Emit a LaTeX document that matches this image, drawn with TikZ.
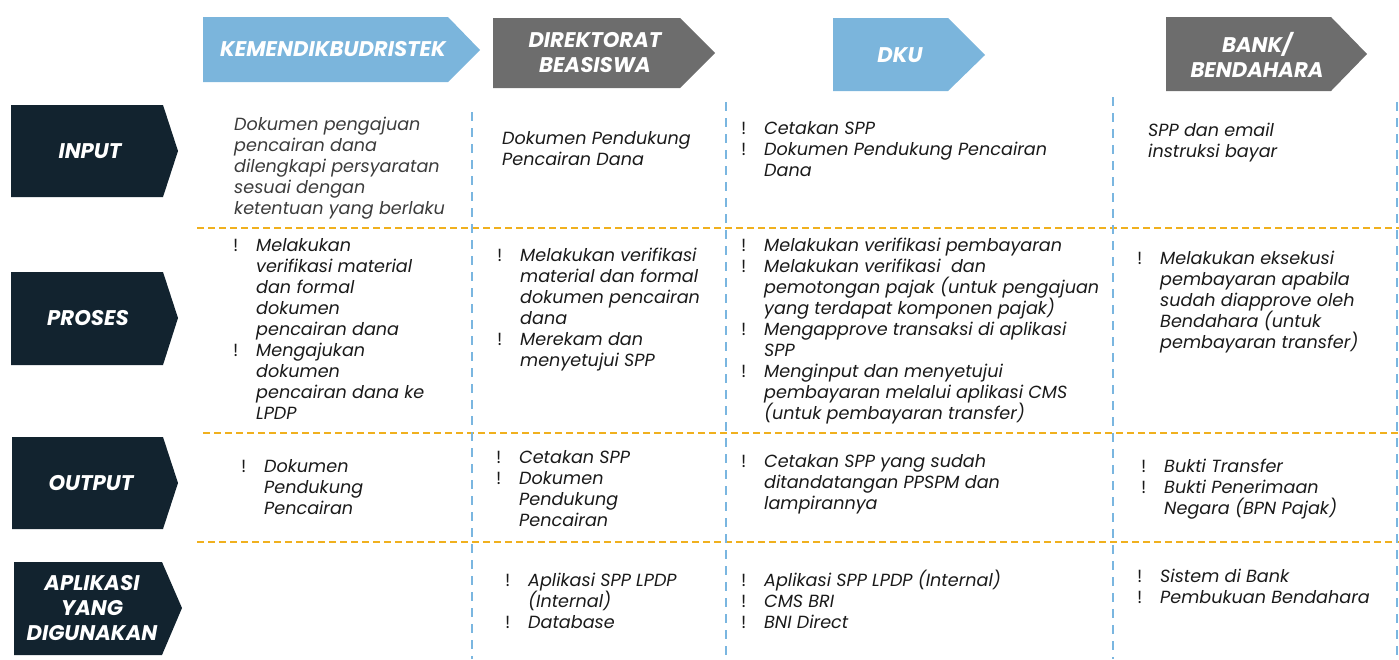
\documentclass[tikz,border=0pt]{standalone}
\usepackage{fontspec}
\setmainfont{Poppins}
\usepackage{array}
\definecolor{lblue}{HTML}{7BB5DC}
\definecolor{hgray}{HTML}{6D6D6D}
\definecolor{navy}{HTML}{12232F}
\definecolor{orng}{HTML}{F0B01E}
\definecolor{dblue}{HTML}{7AB6E0}
\definecolor{txt}{HTML}{1A1A1A}
\definecolor{txtg}{HTML}{3C3C3C}
\newcommand\cellfont{\fontsize{17.6}{21}\selectfont\itshape}
\newcommand\headfont{\fontsize{21.2}{25}\selectfont\bfseries\itshape}
\newcommand\bl{\upshape !}
\newcolumntype{S}{>{\setbox0\hbox\bgroup}l<{\egroup\ht0=0pt\dp0=0pt\box0}}
\newenvironment{bul}{\begin{tabular}{@{}p{23pt}@{}S@{}}}{\end{tabular}}
\newenvironment{pl}{\begin{tabular}{@{}S@{}}}{\end{tabular}}
\begin{document}
\begin{tikzpicture}[x=1pt,y=-1pt,
  cell/.style={anchor=north west, inner sep=0pt, font=\cellfont, text=txt},
  headtxt/.style={inner sep=0pt, font=\headfont, text=white, align=center},
  hline/.style={orng, line width=2pt, dash pattern=on 7pt off 4pt},
  vline/.style={dblue, line width=2pt, dash pattern=on 9pt off 7pt}]
\useasboundingbox (0,0) rectangle (1399,659);
% dashed grid
\coordinate (h1a) at (197,228); \coordinate (h1b) at (1399,228);
\coordinate (h2a) at (203,433); \coordinate (h2b) at (1399,433);
\coordinate (h3a) at (197,542); \coordinate (h3b) at (1399,542);
\draw[hline] (h1a) -- (h1b);
\draw[hline] (h2a) -- (h2b);
\draw[hline] (h3a) -- (h3b);
\coordinate (v1a) at (472,112); \coordinate (v1b) at (472,659);
\coordinate (v2a) at (726,102); \coordinate (v2b) at (726,659);
\coordinate (v3a) at (1113,97); \coordinate (v3b) at (1113,659);
\coordinate (v4a) at (1397,102); \coordinate (v4b) at (1397,659);
\draw[vline] (v1a) -- (v1b);
\draw[vline] (v2a) -- (v2b);
\draw[vline] (v3a) -- (v3b);
\draw[vline] (v4a) -- (v4b);
% header arrows
\fill[lblue] (203,17) -- (448,17) -- (480,50) -- (448,82) -- (203,82) -- cycle;
\node[headtxt] (hk) at (333,49) {KEMENDIKBUDRISTEK};
\fill[hgray] (493,18) -- (680,18) -- (715,53) -- (680,88) -- (493,88) -- cycle;
\node[headtxt] (hd) at (595,53) {DIREKTORAT\\BEASISWA};
\fill[lblue] (833,18) -- (948,18) -- (985,55) -- (948,91) -- (833,91) -- cycle;
\node[headtxt] (hu) at (900,55) {DKU};
\fill[hgray] (1166,17) -- (1331,17) -- (1367,54) -- (1331,91) -- (1166,91) -- cycle;
\node[headtxt] (hb) at (1257,55) {BANK/\\BENDAHARA};
% row labels
\fill[navy] (11,105) -- (163,105) -- (178,151) -- (163,197) -- (11,197) -- cycle;
\node[headtxt] (ri) at (90,151) {INPUT};
\fill[navy] (11,272) -- (163,272) -- (178,318) -- (163,365) -- (11,365) -- cycle;
\node[headtxt] (rp) at (88,318) {PROSES};
\fill[navy] (12,437) -- (163,437) -- (178,483) -- (163,529) -- (12,529) -- cycle;
\node[headtxt] (ro) at (91,483) {OUTPUT};
\fill[navy] (14,562) -- (162,562) -- (182,608) -- (162,655) -- (14,655) -- cycle;
\node[headtxt] (ra) at (92,608) {APLIKASI\\YANG\\DIGUNAKAN};
\begin{scope}[shift={(0,2)}]
% INPUT row
\node[cell, text=txtg] (i1) at (234,114) {\begin{pl}Dokumen pengajuan\\pencairan dana\\dilengkapi persyaratan\\sesuai dengan\\ketentuan yang berlaku\end{pl}};
\node[cell] (i2) at (502,128) {\begin{pl}Dokumen Pendukung\\Pencairan Dana\end{pl}};
\node[cell] (i3) at (741,118) {\begin{bul}\bl & Cetakan SPP\\ \bl & Dokumen Pendukung Pencairan\\ & Dana\end{bul}};
\node[cell] (i4) at (1148,120) {\begin{pl}SPP dan email\\instruksi bayar\end{pl}};
% PROSES row
\node[cell] (p1) at (233,235) {\begin{bul}\bl & Melakukan\\ & verifikasi material\\ & dan formal\\ & dokumen\\ & pencairan dana\\ \bl & Mengajukan\\ & dokumen\\ & pencairan dana ke\\ & LPDP\end{bul}};
\node[cell] (p2) at (497,245) {\begin{bul}\bl & Melakukan verifikasi\\ & material dan formal\\ & dokumen pencairan\\ & dana\\ \bl & Merekam dan\\ & menyetujui SPP\end{bul}};
\node[cell] (p3) at (741,235) {\begin{bul}\bl & Melakukan verifikasi pembayaran\\ \bl & Melakukan verifikasi\ \ dan\\ & pemotongan pajak (untuk pengajuan\\ & yang terdapat komponen pajak)\\ \bl & Mengapprove transaksi di aplikasi\\ & SPP\\ \bl & Menginput dan menyetujui\\ & pembayaran melalui aplikasi CMS\\ & (untuk pembayaran transfer)\end{bul}};
\node[cell] (p4) at (1137,248) {\begin{bul}\bl & Melakukan eksekusi\\ & pembayaran apabila\\ & sudah diapprove oleh\\ & Bendahara (untuk\\ & pembayaran transfer)\end{bul}};
% OUTPUT row
\node[cell] (o1) at (241,456) {\begin{bul}\bl & Dokumen\\ & Pendukung\\ & Pencairan\end{bul}};
\node[cell] (o2) at (496,447) {\begin{bul}\bl & Cetakan SPP\\ \bl & Dokumen\\ & Pendukung\\ & Pencairan\end{bul}};
\node[cell] (o3) at (741,451) {\begin{bul}\bl & Cetakan SPP yang sudah\\ & ditandatangan PPSPM dan\\ & lampirannya\end{bul}};
\node[cell] (o4) at (1141,456) {\begin{bul}\bl & Bukti Transfer\\ \bl & Bukti Penerimaan\\ & Negara (BPN Pajak)\end{bul}};
% APLIKASI row
\node[cell] (a2) at (505,570) {\begin{bul}\bl & Aplikasi SPP LPDP\\ & (Internal)\\ \bl & Database\end{bul}};
\node[cell] (a3) at (741,570) {\begin{bul}\bl & Aplikasi SPP LPDP (Internal)\\ \bl & CMS BRI\\ \bl & BNI Direct\end{bul}};
\node[cell] (a4) at (1137,566) {\begin{bul}\bl & Sistem di Bank\\ \bl & Pembukuan Bendahara\end{bul}};
\end{scope}
\end{tikzpicture}
\end{document}
